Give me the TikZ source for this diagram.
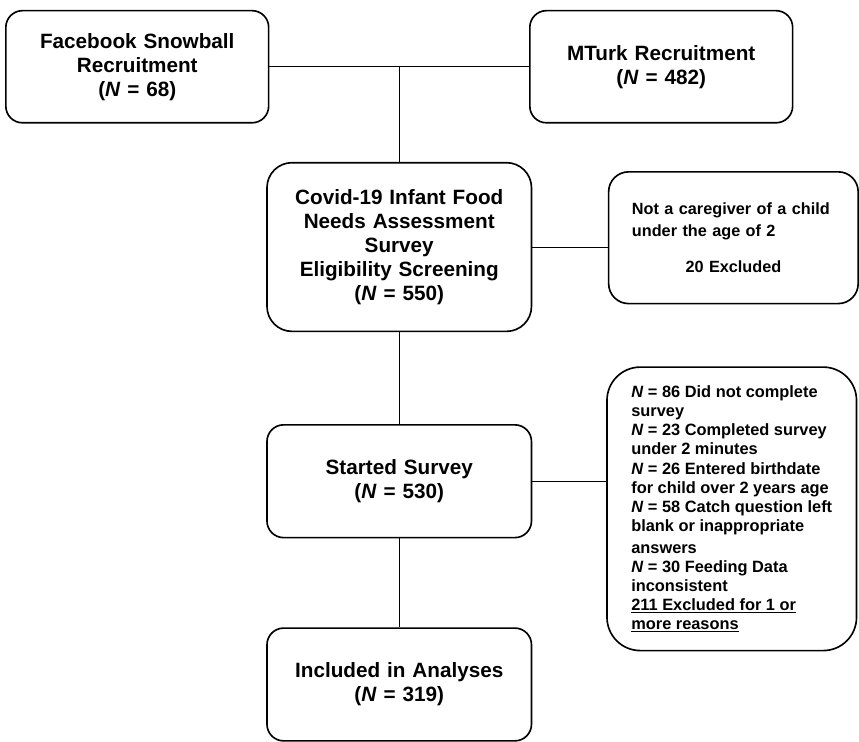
\documentclass[tikz,border=0pt]{standalone}
\usepackage{fontspec}
\setmainfont{Liberation Sans}
\usetikzlibrary{positioning}

\begin{document}
\begin{tikzpicture}[
        node distance=1.15cm and 2.3cm,
        % Define styles for the different boxes
        stage/.style={rectangle, draw, line width=1.4pt, rounded corners=0.5cm, text width=7.5cm, align=center, minimum width=7.95cm, minimum height=3.39cm, font=\fontsize{17.7}{20.5}\selectfont\bfseries},
        screen/.style={stage, rounded corners=0.75cm, minimum height=5.07cm},
        source/.style={stage, minimum width=7.9cm, minimum height=3.37cm},
        excluded/.style={rectangle, draw, line width=1.4pt, rounded corners=0.6cm, align=left, minimum width=7.5cm, font=\fontsize{14}{16.4}\selectfont\bfseries},
        line/.style={draw, line width=0.9pt}
    ]

    % --- Nodes ---
    % Screening
    \node [screen] (covid) at (0,0) {Covid-19 Infant Food \\ Needs Assessment \\ Survey \\ Eligibility Screening \\ (\textit{N} = 550)};

    % Recruitment sources
    \node [source, above left=1.15cm and 3.9cm of covid.north] (facebook) {Facebook Snowball \\ Recruitment \\ (\textit{N} = 68)};
    \node [source, above right=1.15cm and 3.9cm of covid.north] (mturk) {MTurk Recruitment \\ (\textit{N} = 482)};

    % Not eligible
    \node [excluded, right=2.27cm of covid, yshift=0.28cm, minimum height=3.96cm, text width=6.1cm, font=\fontsize{13.9}{18.5}\selectfont\bfseries] (notcaregiver) {Not a caregiver of a child \\ under the age of 2 \\[12pt] \makebox[\linewidth]{20 Excluded}};

    % Started and included
    \node [stage, below=2.76cm of covid] (started) {Started Survey \\ (\textit{N} = 530)};
    \node [stage, below=2.67cm of started] (included) {Included in Analyses \\ (\textit{N} = 319)};

    % Exclusions after start
    \node [excluded, right=2.22cm of started, yshift=-0.83cm, minimum height=8.52cm, rounded corners=1cm] (incomplete) {\textit{N} = 86 Did not complete \\ survey \\ \textit{N} = 23 Completed survey \\ under 2 minutes \\ \textit{N} = 26 Entered birthdate \\ for child over 2 years age \\ \textit{N} = 58 Catch question left \\ blank or inappropriate \\[2pt] answers \\ \textit{N} = 30 Feeding Data \\ inconsistent \\ \underline{211 Excluded for 1 or} \\ \underline{more reasons}};

    % --- Edges (Lines) ---
    \path [line] (facebook.east) -- (mturk.west);
    \path [line] (covid.north) -- (covid.north |- facebook.east);
    \path [line] (covid.east) -- (covid.east -| notcaregiver.west);
    \path [line] (covid) -- (started);
    \path [line] (started.east) -- (started.east -| incomplete.west);
    \path [line] (started) -- (included);

    \useasboundingbox (-12.0,7.425) rectangle (13.77,-14.595);
\end{tikzpicture}
\end{document}
